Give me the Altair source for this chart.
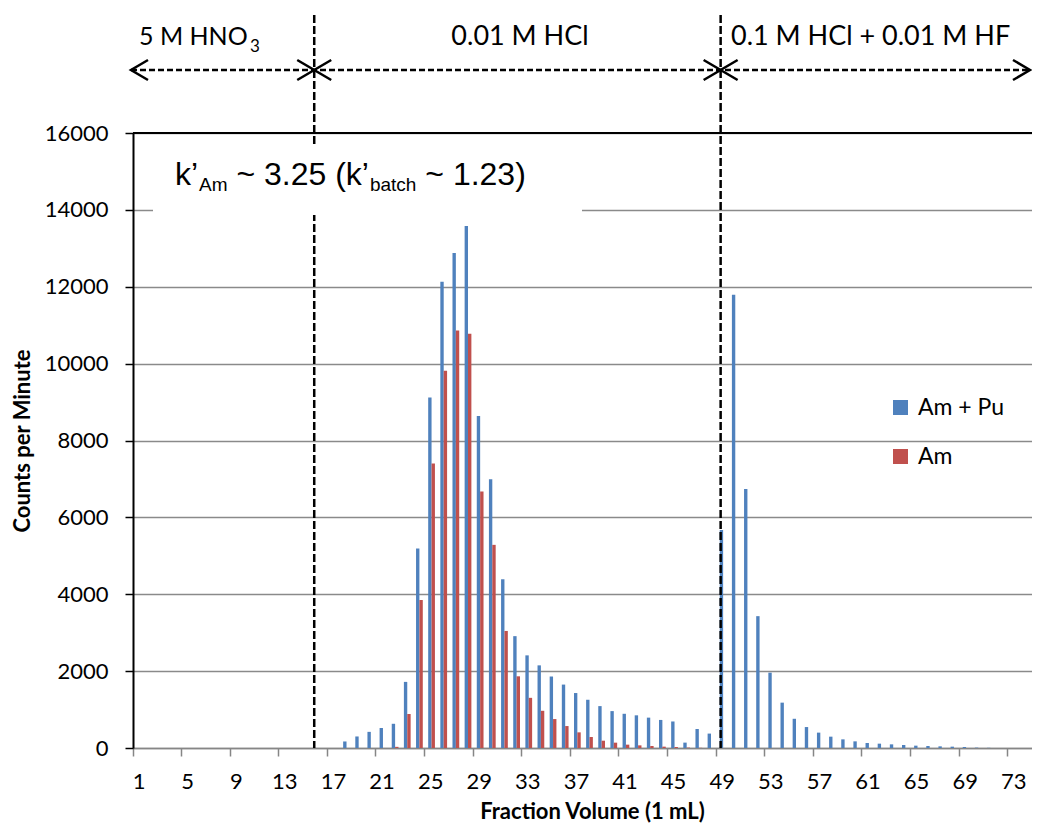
import altair as alt
import pandas as pd

# ---------------- data ----------------
fractions = list(range(1, 75))
series_names = ["Am + Pu", "Am"]
series_colors = ["#4F81BD", "#C0504D"]

am_pu_cpm = [0, 0, 0, 0, 0, 0, 0, 0, 0, 0, 0, 0, 0, 0, 0, 0, 0,
             170, 300, 420, 520, 630, 1720, 5190, 9120, 12130, 12880,
             13580, 8640, 6990, 4390, 2910, 2410, 2150, 1860, 1650, 1430,
             1255, 1090, 960, 890, 850, 790, 730, 690, 140, 494,
             375, 5670, 11790, 6740, 3430, 1960, 1180, 760, 545, 400,
             295, 225, 173, 130, 113, 95, 78, 61, 52, 43,
             35, 26, 10, 5, 0, 0, 0]

am_cpm = [0, 0, 0, 0, 0, 0, 0, 0, 0, 0, 0, 0, 0, 0, 0, 0, 0, 0, 0, 0, 0,
          30, 885, 3850, 7400, 9815, 10860, 10780, 6670, 5285, 3045,
          1865, 1305, 968, 753, 571, 407, 286, 190, 139, 87,
          69, 52, 35, 26, 10, 5,
          0, 0, 0, 0, 0, 0, 0, 0, 0, 0, 0, 0, 0, 0, 0, 0, 0, 0, 0, 0,
          0, 0, 0, 0, 0, 0, 0]

x_tick_labels = list(range(1, 74, 4))
y_ticks = list(range(0, 16001, 2000))

solvent_labels = ["5 M HNO", "0.01 M HCl", "0.1 M HCl + 0.01 M HF"]

assert len(am_pu_cpm) == len(fractions) == len(am_cpm)

rows = []
for f, a, b in zip(fractions, am_pu_cpm, am_cpm):
    rows.append({"Fraction": f, "Series": series_names[0], "CPM": a})
    rows.append({"Fraction": f, "Series": series_names[1], "CPM": b})
df = pd.DataFrame(rows)

# ---------------- layout ----------------
W = 899
H = 615
STEP = W / len(fractions)
PAD_L = 125
PAD_T = 125
LAT = "Lato"
ARIAL = "Liberation Sans"

one = pd.DataFrame({"k": [0]})

bars = alt.Chart(df).mark_bar().encode(
    x=alt.X(
        "Fraction:O",
        scale=alt.Scale(domain=fractions, paddingInner=0, paddingOuter=0),
        axis=alt.Axis(
            values=x_tick_labels, labelAngle=0, bandPosition=0,
            tickSize=8, tickColor="#868686", tickWidth=1.5,
            domainColor="#868686", domainWidth=1.5,
            labelFont=LAT, labelFontSize=22, labelColor="black", labelPadding=15,
            labelOverlap=False, grid=False,
            title="Fraction Volume (1 mL)", titleFont=LAT, titleFontSize=22,
            titleFontWeight="bold", titleColor="black",
            titleX=459, titleY=70, titleAlign="center", titleBaseline="alphabetic",
        ),
    ),
    xOffset=alt.XOffset(
        "Series:N",
        scale=alt.Scale(domain=series_names, paddingInner=0, paddingOuter=0.8, align=0.67),
    ),
    y=alt.Y(
        "CPM:Q",
        scale=alt.Scale(domain=[0, 16000], nice=False),
        axis=alt.Axis(
            values=y_ticks, format="d",
            tickSize=8, tickColor="black", tickWidth=1.5,
            domainColor="black", domainWidth=2,
            labelFont=LAT, labelFontSize=22, labelColor="black", labelPadding=17,
            grid=True, gridColor="#8a8a8a", gridWidth=1.5,
            title="Counts per Minute", titleFont=LAT, titleFontSize=22,
            titleFontWeight="bold", titleColor="black",
            titleX=-104, titleY=H / 2, titleAngle=270, titleAlign="center",
            titleBaseline="alphabetic",
        ),
    ),
    color=alt.Color(
        "Series:N",
        scale=alt.Scale(domain=series_names, range=series_colors),
        legend=alt.Legend(
            title=None, orient="none", legendX=756, legendY=263,
            symbolType="square", symbolSize=225, symbolStrokeWidth=0,
            labelFont=LAT, labelFontSize=23, labelColor="black", labelOffset=6,
            rowPadding=25, padding=0,
        ),
    ),
)

layers = [bars]

# top border of plot area
layers.append(alt.Chart(one).mark_rule(color="black", strokeWidth=2).encode(
    x=alt.value(0), x2=alt.value(W), y=alt.value(0)))

# vertical dashed boundaries (between fractions 15|16 and on fraction 49)
x_b1 = 15 * STEP - 1
x_b2 = 48 * STEP + 4.5
for xb in [x_b1, x_b2]:
    layers.append(alt.Chart(one).mark_rule(color="black", strokeWidth=2.5, strokeDash=[8, 3]).encode(
        x=alt.value(xb), y=alt.value(-118), y2=alt.value(H)))

# horizontal dashed arrow line
x_end = W - 2
layers.append(alt.Chart(one).mark_rule(color="black", strokeWidth=2.5, strokeDash=[6, 3]).encode(
    x=alt.value(-2), x2=alt.value(x_end), y=alt.value(-63)))

LEFT_CHEV = "M 1 -0.59 L 0 0 L 1 0.59"
RIGHT_CHEV = "M -1 -0.59 L 0 0 L -1 0.59"
for xc in [-2, x_b1, x_b2]:
    layers.append(alt.Chart(one).mark_point(shape=LEFT_CHEV, filled=False, stroke="black",
                                            strokeWidth=2.5, size=1156, opacity=1).encode(
        x=alt.value(xc), y=alt.value(-63)))
for xc in [x_b1, x_b2, x_end]:
    layers.append(alt.Chart(one).mark_point(shape=RIGHT_CHEV, filled=False, stroke="black",
                                            strokeWidth=2.5, size=1156, opacity=1).encode(
        x=alt.value(xc), y=alt.value(-63)))

# white box behind the k' annotation
layers.append(alt.Chart(one).mark_rect(color="white").encode(
    x=alt.value(20), x2=alt.value(449), y=alt.value(11), y2=alt.value(82)))


def txt(s, x, y, size, font=LAT, align="left", weight="normal"):
    return alt.Chart(one).mark_text(text=s, font=font, fontSize=size, align=align,
                                    baseline="alphabetic", color="black",
                                    fontWeight=weight).encode(x=alt.value(x), y=alt.value(y))


# solvent labels
layers.append(txt(solvent_labels[0], 6, -88, 25))
layers.append(txt("3", 117, -81, 17))
layers.append(txt(solvent_labels[1], 387, -88, 27, align="center"))
layers.append(txt(solvent_labels[2], 598, -88, 27))

# k' annotation composed of pieces (main 32px, subscript 19px)
AW = {"k": 0.5, "’": 0.222, "A": 0.667, "m": 0.833, " ": 0.278, "~": 0.584,
      "3": 0.556, ".": 0.278, "2": 0.556, "5": 0.556, "(": 0.333, ")": 0.333,
      "b": 0.556, "a": 0.556, "t": 0.278, "c": 0.5, "h": 0.556, "1": 0.556}
# (text, font size, is subscript, gap before in em of main font)
pieces = [("k’", 32, 0, 0), ("Am", 19, 1, 0.03), ("~ 3.25 (k’", 32, 0, 0.278),
          ("batch", 19, 1, 0.03), ("~ 1.23)", 32, 0, 0.278)]
xk = 42
for s, size, sub, gap in pieces:
    xk += gap * 32
    layers.append(txt(s, xk, 58 if sub else 52, size, font=ARIAL))
    xk += sum(AW[c] for c in s) * size

chart = alt.layer(*layers).properties(
    width=W, height=H,
    autosize=alt.AutoSizeParams(type="none"),
    padding={"left": PAD_L, "top": PAD_T, "right": 0, "bottom": 78},
    background="white",
).configure_view(stroke=None)

chart.save("out.html", embed_options={"renderer": "svg", "actions": False})
